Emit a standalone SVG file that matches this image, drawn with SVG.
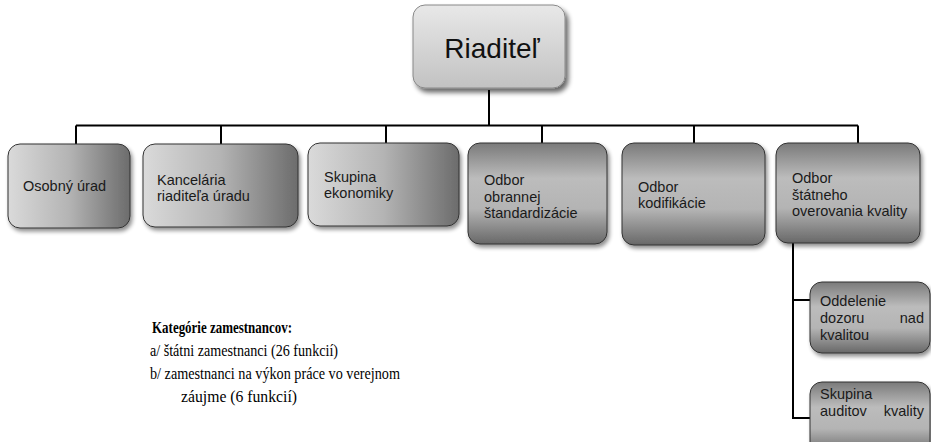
<svg xmlns="http://www.w3.org/2000/svg" width="931" height="442" viewBox="0 0 931 442">
<defs>
<linearGradient id="gH" x1="0" y1="0" x2="1" y2="0">
<stop offset="0" stop-color="#dadada"/><stop offset="0.5" stop-color="#b4b4b4"/><stop offset="1" stop-color="#6c6c6c"/>
</linearGradient>
<linearGradient id="gV" x1="0" y1="0" x2="0" y2="1">
<stop offset="0" stop-color="#7a7a7a"/><stop offset="0.35" stop-color="#bcbcbc"/><stop offset="0.65" stop-color="#b4b4b4"/><stop offset="1" stop-color="#686868"/>
</linearGradient>
<linearGradient id="gR" x1="0" y1="0" x2="0" y2="1">
<stop offset="0" stop-color="#e8e8e8"/><stop offset="1" stop-color="#c2c2c2"/>
</linearGradient>
<filter id="sh" x="-10%" y="-10%" width="130%" height="130%">
<feGaussianBlur in="SourceAlpha" stdDeviation="2"/><feOffset dx="2" dy="3" result="b"/>
<feComponentTransfer><feFuncA type="linear" slope="0.45"/></feComponentTransfer>
<feMerge><feMergeNode/><feMergeNode in="SourceGraphic"/></feMerge>
</filter>
<filter id="shR" x="-15%" y="-15%" width="140%" height="140%">
<feGaussianBlur in="SourceAlpha" stdDeviation="2.5"/><feOffset dx="3" dy="4" result="b"/>
<feComponentTransfer><feFuncA type="linear" slope="0.6"/></feComponentTransfer>
<feMerge><feMergeNode/><feMergeNode in="SourceGraphic"/></feMerge>
</filter>
</defs>
<style>
.box{stroke:#333;stroke-width:1;filter:url(#sh)}
.h{fill:url(#gH)}
.v{fill:url(#gV)}
.t{font-family:"Liberation Sans",Arial,sans-serif;font-size:14.5px;fill:#1a1a1a}
.c{fill:none;stroke:#000;stroke-width:2}
.lg{font-family:"Liberation Serif","Times New Roman",serif;font-size:16px;fill:#000}
</style>
<g id="connectors">
<path class="c" d="M489 90V125.5M76 125.5H858M76 125.5V144M221 125.5V144M386 125.5V143M542 125.5V143M694 125.5V143M858 125.5V143M793 243V418H810M793 300H810"/>
</g>
<g id="riaditel">
<rect x="413" y="5" width="152" height="83" rx="12" fill="url(#gR)" stroke="#888" stroke-width="1" filter="url(#shR)"/>
<text x="492" y="58" text-anchor="middle" style="font-family:'Liberation Sans',Arial,sans-serif;font-size:28px;fill:#111">Riaditeľ</text>
</g>
<g id="osobny">
<rect class="box h" x="8" y="144" width="122" height="84" rx="12"/>
<text class="t" x="23" y="191">Osobný úrad</text>
</g>
<g id="kancelaria">
<rect class="box h" x="143" y="144" width="155" height="83" rx="12"/>
<text class="t" x="157" y="185">Kancelária</text>
<text class="t" x="157" y="201">riaditeľa úradu</text>
</g>
<g id="skupina-ekonomiky">
<rect class="box h" x="308" y="143" width="151" height="83" rx="12"/>
<text class="t" x="324" y="182">Skupina</text>
<text class="t" x="324" y="198">ekonomiky</text>
</g>
<g id="odbor-obrannej">
<rect class="box v" x="468" y="143" width="139" height="101" rx="12"/>
<text class="t" x="484" y="185">Odbor</text>
<text class="t" x="484" y="202">obrannej</text>
<text class="t" x="484" y="218">štandardizácie</text>
</g>
<g id="odbor-kodifikacie">
<rect class="box v" x="622" y="143" width="143" height="102" rx="12"/>
<text class="t" x="638" y="192">Odbor</text>
<text class="t" x="638" y="208">kodifikácie</text>
</g>
<g id="odbor-statneho">
<rect class="box v" x="776" y="143" width="144" height="100" rx="12"/>
<text class="t" x="792" y="183">Odbor</text>
<text class="t" x="792" y="200">štátneho</text>
<text class="t" x="792" y="216">overovania kvality</text>
</g>
<g id="oddelenie">
<rect class="box v" x="810" y="282" width="120" height="71" rx="12"/>
<text class="t" x="820" y="306">Oddelenie</text>
<text class="t" x="820" y="323">dozoru</text>
<text class="t" x="924" y="323" text-anchor="end">nad</text>
<text class="t" x="820" y="340">kvalitou</text>
</g>
<g id="skupina-auditov">
<rect class="box v" x="810" y="382" width="120" height="72" rx="12"/>
<text class="t" x="820" y="399">Skupina</text>
<text class="t" x="820" y="416">auditov</text>
<text class="t" x="924" y="416" text-anchor="end">kvality</text>
</g>
<g id="legend">
<text class="lg" x="152" y="333" font-weight="bold" textLength="140" lengthAdjust="spacingAndGlyphs">Kategórie zamestnancov:</text>
<text class="lg" x="150" y="356" textLength="188" lengthAdjust="spacingAndGlyphs">a/  štátni zamestnanci (26 funkcií)</text>
<text class="lg" x="150" y="379" textLength="250" lengthAdjust="spacingAndGlyphs">b/ zamestnanci na výkon práce vo verejnom</text>
<text class="lg" x="181" y="402" textLength="116" lengthAdjust="spacingAndGlyphs">záujme (6 funkcií)</text>
</g>
</svg>
